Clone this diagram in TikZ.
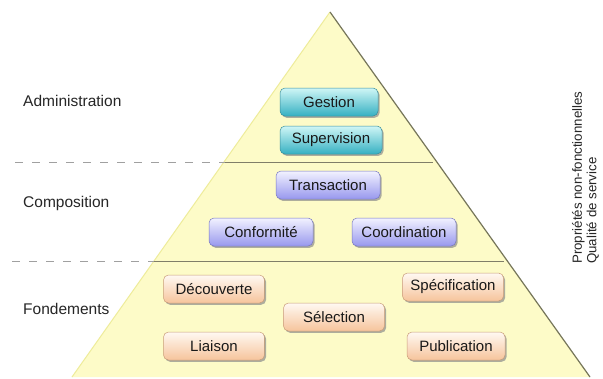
\documentclass[tikz,border=0pt]{standalone}
\usepackage{fontspec}
\setmainfont{Liberation Sans}
\usetikzlibrary{shadows}
\definecolor{triFill}{HTML}{FDFBC8}
\definecolor{triLeft}{HTML}{EEEC9A}
\definecolor{triRight}{HTML}{76765A}
\definecolor{sepSolid}{HTML}{807E68}
\definecolor{sepDash}{HTML}{A0A0A0}
\definecolor{labelCol}{HTML}{262626}
\definecolor{cyTop}{HTML}{CFF6F6}
\definecolor{cyBot}{HTML}{36B0C2}
\definecolor{cyLine}{HTML}{3A8F9C}
\definecolor{lvTop}{HTML}{F2F2FF}
\definecolor{lvBot}{HTML}{9898EE}
\definecolor{lvLine}{HTML}{7878C0}
\definecolor{pcTop}{HTML}{FFF9F2}
\definecolor{pcBot}{HTML}{F6C49C}
\definecolor{pcLine}{HTML}{C99C78}
\tikzset{
  x=1pt, y=-1pt,
  boxbase/.style={rounded corners=5pt, minimum height=28pt, inner sep=0pt,
    font=\fontsize{15}{17}\selectfont, text=black!90,
    drop shadow={shadow xshift=1.6pt, shadow yshift=-1.8pt, fill=black!45, opacity=0.7}},
  cybox/.style={boxbase, minimum width=98pt, top color=cyTop, bottom color=cyBot, draw=cyLine, line width=0.5pt},
  lvbox/.style={boxbase, minimum width=104pt, top color=lvTop, bottom color=lvBot, draw=lvLine, line width=0.5pt},
  pcbox/.style={boxbase, minimum width=101pt, top color=pcTop, bottom color=pcBot, draw=pcLine, line width=0.5pt},
  layerlabel/.style={anchor=west, inner sep=0pt, text=labelCol, font=\fontsize{15.5}{17}\selectfont},
  sepdash/.style={draw=sepDash, line width=1pt, dash pattern=on 8pt off 9pt},
  sepsolid/.style={draw=sepSolid, line width=0.8pt},
}
\begin{document}
\begin{tikzpicture}
\useasboundingbox (0,0) rectangle (603,378);
\fill[white] (0,0) rectangle (603,378);
% pyramid
\coordinate (apex) at (330,12);
\coordinate (bl) at (72,377);
\coordinate (br) at (590,377);
\fill[triFill] (apex) -- (br) -- (bl) -- cycle;
\draw[triLeft, line width=1pt] (bl) -- (apex);
\draw[triRight, line width=1.2pt] (apex) -- (br);
% separators
\coordinate (s1a) at (15,162);
\coordinate (s1b) at (225,162);
\coordinate (s1c) at (433,162);
\coordinate (s2a) at (12,261);
\coordinate (s2b) at (154,261);
\coordinate (s2c) at (504,261);
\draw[sepdash] (s1a) -- (s1b);
\draw[sepsolid] (s1b) -- (s1c);
\draw[sepdash] (s2a) -- (s2b);
\draw[sepsolid] (s2b) -- (s2c);
% layer labels
\node[layerlabel] (ladm) at (23,101) {Administration};
\node[layerlabel] (lcomp) at (23,203) {Composition};
\node[layerlabel] (lfond) at (23,309) {Fondements};
% boxes
\node[cybox] (gestion) at (329,102) {Gestion};
\node[cybox, minimum width=102pt] (supervision) at (331,140) {Supervision};
\node[lvbox] (transaction) at (328,185) {Transaction};
\node[lvbox] (conformite) at (261,232) {Conformité};
\node[lvbox] (coordination) at (404,232) {Coordination};
\node[pcbox] (decouverte) at (214,289) {Découverte};
\node[pcbox] (liaison) at (214,346) {Liaison};
\node[pcbox] (selection) at (334,317) {Sélection};
\node[pcbox] (specification) at (453,287) {Spécification};
\node[pcbox, minimum width=98pt] (publication) at (456,346) {Publication};
% right rotated text
\node[rotate=90, anchor=north west, align=left, inner sep=0pt, text=labelCol,
  font=\fontsize{13.3}{14.5}\selectfont] (qos) at (572,264)
  {Propriétés non-fonctionnelles\\Qualité de service};
\end{tikzpicture}
\end{document}
